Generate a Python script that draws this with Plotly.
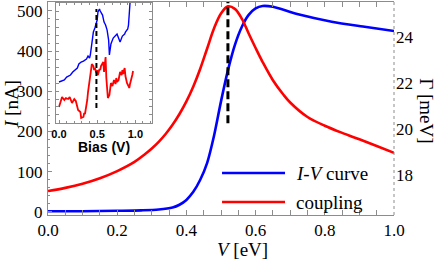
import plotly.graph_objects as go

# ---------------- data ----------------
# main panel: I-V curve (left axis, nA)
bias_iv = [0.00, 0.10, 0.20, 0.27, 0.32, 0.36, 0.38, 0.40, 0.42, 0.44, 0.46, 0.48,
           0.50, 0.52, 0.54, 0.56, 0.58, 0.60, 0.62, 0.65, 0.72, 0.82, 0.91, 1.00]
current_nA = [2, 2, 3, 4, 6, 11, 18, 30, 50, 80, 122, 190,
              275, 352, 415, 460, 490, 506, 512, 510, 492, 473, 461, 450]

# main panel: coupling (right axis, meV)
bias_cp = [0.00, 0.05, 0.10, 0.15, 0.20, 0.25, 0.28, 0.30, 0.32, 0.34, 0.36, 0.38,
           0.40, 0.42, 0.44, 0.46, 0.48, 0.50, 0.52, 0.54, 0.56, 0.58, 0.60, 0.62,
           0.65, 0.68, 0.70, 0.75, 0.80, 0.85, 0.90, 0.95, 1.00]
gamma_meV = [17.30, 17.44, 17.62, 17.86, 18.17, 18.57, 18.90, 19.15, 19.44, 19.78, 20.18, 20.65,
             21.20, 21.85, 22.62, 23.50, 24.38, 25.02, 25.33, 25.22, 24.80, 24.15, 23.52, 22.92,
             22.12, 21.50, 21.15, 20.52, 20.14, 19.83, 19.55, 19.26, 18.96]

peak_bias = 0.52
peak_gamma_span = [20.25, 25.6]

# inset: measured curves (arbitrary units)
inset_bias_blue = [0.00, 0.03, 0.07, 0.10, 0.15, 0.18, 0.21, 0.24, 0.26, 0.29, 0.32, 0.34,
                   0.36, 0.38, 0.40, 0.41, 0.42, 0.45, 0.47, 0.50, 0.51, 0.53, 0.54, 0.57,
                   0.59, 0.61, 0.63, 0.65, 0.66, 0.67, 0.68, 0.71, 0.74, 0.76, 0.79, 0.80,
                   0.83, 0.86, 0.87, 0.90, 0.91, 0.92, 0.93]
inset_blue = [41, 42, 43, 46, 48, 51, 53, 55, 59, 61, 62, 63,
              64, 67, 65, 68, 75, 91, 95, 103, 111, 114, 112, 108,
              101, 98, 93, 83, 68, 73, 79, 85, 87, 89, 83, 81,
              87, 89, 91, 94, 98, 108, 120]

inset_bias_red = [0.00, 0.03, 0.04, 0.07, 0.09, 0.12, 0.14, 0.17, 0.20, 0.22, 0.25, 0.28,
                  0.29, 0.32, 0.33, 0.34, 0.36, 0.37, 0.38, 0.39, 0.41, 0.42, 0.43, 0.45,
                  0.46, 0.47, 0.49, 0.50, 0.51, 0.53, 0.54, 0.55, 0.57, 0.58, 0.59, 0.61,
                  0.62, 0.63, 0.64, 0.66, 0.67, 0.68, 0.70, 0.71, 0.72, 0.74, 0.75, 0.76,
                  0.78, 0.79, 0.80, 0.82, 0.83, 0.84, 0.86, 0.87, 0.88, 0.89, 0.91, 0.92,
                  0.93, 0.95, 0.96, 0.97]
inset_red = [16, 23, 26, 23, 25, 24, 26, 20, 24, 22, 13, 11,
             5, 6, 10, 9, 17, 23, 31, 38, 45, 53, 59, 57,
             53, 55, 50, 53, 48, 54, 53, 57, 59, 61, 51, 66,
             45, 33, 25, 28, 35, 40, 37, 41, 43, 39, 45, 41,
             43, 47, 51, 48, 53, 49, 55, 47, 43, 40, 37, 35,
             39, 44, 48, 52]

inset_peak_bias = 0.49
inset_peak_span = [15, 114]

x_ticks_main = [0.0, 0.2, 0.4, 0.6, 0.8, 1.0]
x_tick_text = ["0.0", "0.2", "0.4", "0.6", "0.8", "1.0"]
gamma_ticks = [18, 20, 22, 24]
inset_ticks = [0.0, 0.5, 1.0]
inset_tick_text = ["<b>0.0</b>", "<b>0.5</b>", "<b>1.0</b>"]

# ---------------- figure ----------------
SERIF = "Liberation Serif"
SANS = "Liberation Sans"
GRAY = "#8c8c8c"
BLUE = "#0000ff"
RED = "#ff0000"

fig = go.Figure()

fig.add_trace(go.Scatter(x=bias_iv, y=current_nA, mode="lines",
                         line=dict(color=BLUE, width=2.6, shape="spline", smoothing=0.8),
                         xaxis="x", yaxis="y", showlegend=False, hoverinfo="skip"))
fig.add_trace(go.Scatter(x=bias_cp, y=gamma_meV, mode="lines",
                         line=dict(color=RED, width=2.6, shape="spline", smoothing=1.0),
                         xaxis="x", yaxis="y2", showlegend=False, hoverinfo="skip"))
fig.add_trace(go.Scatter(x=[peak_bias, peak_bias], y=peak_gamma_span, mode="lines",
                         line=dict(color="black", width=3, dash="8px,4px"),
                         xaxis="x", yaxis="y2", showlegend=False, hoverinfo="skip"))

fig.add_trace(go.Scatter(x=inset_bias_blue, y=inset_blue, mode="lines",
                         line=dict(color=BLUE, width=1.4),
                         xaxis="x3", yaxis="y3", showlegend=False, hoverinfo="skip"))
fig.add_trace(go.Scatter(x=inset_bias_red, y=inset_red, mode="lines",
                         line=dict(color=RED, width=1.8),
                         xaxis="x3", yaxis="y3", showlegend=False, hoverinfo="skip"))
fig.add_trace(go.Scatter(x=[inset_peak_bias, inset_peak_bias], y=inset_peak_span, mode="lines",
                         line=dict(color="black", width=2, dash="5px,3px"),
                         xaxis="x3", yaxis="y3", showlegend=False, hoverinfo="skip"))

fig.update_layout(
    width=436, height=260, autosize=False,
    margin=dict(l=48, r=42, t=2, b=45, pad=0),
    paper_bgcolor="white", plot_bgcolor="white",
    font=dict(family=SERIF, size=17, color="black"),
    xaxis=dict(domain=[0, 1], range=[0, 1.0], anchor="y",
               showline=True, linecolor=GRAY, linewidth=1, mirror="allticks",
               ticks="inside", ticklen=5, tickcolor=GRAY, tickwidth=1,
               tickvals=x_ticks_main, ticktext=x_tick_text,
               minor=dict(dtick=0.05, ticks="inside", ticklen=3, tickcolor=GRAY),
               showgrid=False, zeroline=False, tickfont=dict(family=SERIF, size=17)),
    yaxis=dict(domain=[0, 1], range=[-7.5, 522], anchor="x",
               showline=True, linecolor=GRAY, linewidth=1,
               ticks="inside", ticklen=4, tickcolor=GRAY, dtick=100,
               minor=dict(dtick=20, ticks="inside", ticklen=2, tickcolor=GRAY),
               showgrid=False, zeroline=False, ticklabelstandoff=1,
               tickfont=dict(family=SERIF, size=17)),
    yaxis2=dict(overlaying="y", side="right", anchor="x", range=[16.26, 25.52],
                showline=False, ticks="", tickvals=gamma_ticks, showgrid=False,
                zeroline=False, ticklabelstandoff=1,
                tickfont=dict(family=SERIF, size=17)),
    xaxis3=dict(domain=[0.023, 0.301], range=[-0.04, 1.22], anchor="y3",
                showline=True, linecolor=GRAY, linewidth=1, mirror="allticks",
                ticks="inside", ticklen=3, tickcolor=GRAY,
                tickvals=inset_ticks, ticktext=inset_tick_text,
                minor=dict(dtick=0.1, ticks="inside", ticklen=2, tickcolor=GRAY),
                showgrid=False, zeroline=False, ticklabelstandoff=1,
                tickfont=dict(family=SANS, size=11)),
    yaxis3=dict(domain=[0.432, 0.995], range=[0, 120], anchor="x3",
                showline=True, linecolor=GRAY, linewidth=1, mirror="allticks",
                ticks="inside", ticklen=3, tickcolor=GRAY, dtick=8,
                showticklabels=False, showgrid=False, zeroline=False),
    shapes=[
        # dotted right frame
        dict(type="line", xref="paper", yref="paper", x0=1, x1=1, y0=0, y1=1,
             line=dict(color=GRAY, width=1, dash="dot")),
        # legend samples
        dict(type="line", xref="paper", yref="paper", x0=0.503, x1=0.685, y0=0.197, y1=0.197,
             line=dict(color=BLUE, width=2.6)),
        dict(type="line", xref="paper", yref="paper", x0=0.503, x1=0.685, y0=0.061, y1=0.061,
             line=dict(color=RED, width=2.6)),
    ],
    annotations=[
        dict(text="<i>I</i>-<i>V</i> curve", xref="paper", yref="paper", x=0.711, y=0.197,
             xanchor="left", yanchor="middle", showarrow=False,
             font=dict(family=SERIF, size=19)),
        dict(text="coupling", xref="paper", yref="paper", x=0.711, y=0.061,
             xanchor="left", yanchor="middle", showarrow=False,
             font=dict(family=SERIF, size=19)),
        dict(text="<i>V</i> [eV]", xref="paper", yref="paper", x=0.561, y=-0.164,
             xanchor="center", yanchor="middle", showarrow=False,
             font=dict(family=SERIF, size=19)),
        dict(text="<i>I</i> [nA]", xref="paper", yref="paper", x=-0.107, y=0.521,
             xanchor="center", yanchor="middle", showarrow=False, textangle=-90,
             font=dict(family=SERIF, size=19)),
        dict(text="Γ [meV]", xref="paper", yref="paper", x=1.095, y=0.488,
             xanchor="center", yanchor="middle", showarrow=False, textangle=90,
             font=dict(family=SERIF, size=19)),
        dict(text="<b>Bias (V)</b>", xref="paper", yref="paper", x=0.162, y=0.319,
             xanchor="center", yanchor="middle", showarrow=False,
             font=dict(family=SANS, size=14)),
    ],
)

fig.write_html("out.html", config={"displayModeBar": False, "staticPlot": True},
               post_script="document.body.style.margin='0px';")
